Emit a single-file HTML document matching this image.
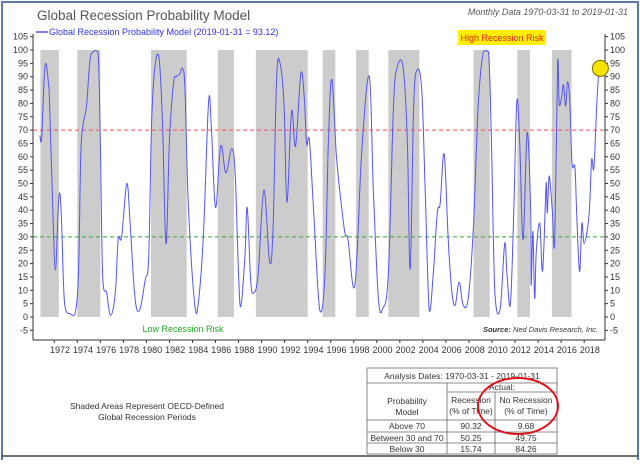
<!DOCTYPE html>
<html><head><meta charset="utf-8"><style>
body{margin:0;background:#fff;width:640px;height:460px;overflow:hidden;font-family:"Liberation Sans",sans-serif}
</style></head><body>
<svg width="640" height="460" font-family="Liberation Sans, sans-serif">
<rect x="2" y="2" width="636" height="470" fill="none" stroke="#5b7aa8" stroke-width="2"/>
<line x1="2" y1="456" x2="638" y2="456" stroke="#444" stroke-width="1.5"/>
<text x="37" y="20" font-size="13.5" fill="#555">Global Recession Probability Model</text>
<text x="628" y="15" font-size="9" font-style="italic" fill="#555" text-anchor="end">Monthly Data 1970-03-31 to 2019-01-31</text>
<line x1="36" y1="32" x2="48" y2="32" stroke="#5555ee" stroke-width="1.5"/>
<text x="49" y="35" font-size="9" fill="#3333dd">Global Recession Probability Model (2019-01-31 = 93.12)</text>
<g id="shades"></g>
<g id="axes"></g>
<g id="refs"></g>
<path id="series" fill="none" stroke="#5555ee" stroke-width="1"/>
<circle id="marker" r="8" fill="#f5e400" stroke="#806a00" stroke-width="1"/>
<rect x="458" y="30" width="88" height="15" fill="#ffee00"/>
<text x="502" y="41" font-size="9" fill="#e02020" text-anchor="middle">High Recession Risk</text>
<text x="183" y="332" font-size="9" fill="#22aa22" text-anchor="middle">Low Recession Risk</text>
<text x="598" y="332" font-size="7.5" fill="#333" font-style="italic" text-anchor="end"><tspan font-weight="bold">Source:</tspan>  Ned Davis Research, Inc.</text>
<text x="147" y="409" font-size="8.5" fill="#333" text-anchor="middle">Shaded Areas Represent OECD-Defined</text>
<text x="147" y="420" font-size="8.5" fill="#333" text-anchor="middle">Global Recession Periods</text>
<g font-size="8.5" fill="#333" text-anchor="middle">
<rect x="367" y="368" width="190" height="86" fill="#fff" stroke="#666" stroke-width="0.8"/>
<line x1="367" y1="383" x2="557" y2="383" stroke="#666" stroke-width="0.8"/>
<line x1="447" y1="392" x2="557" y2="392" stroke="#666" stroke-width="0.8"/>
<line x1="367" y1="420" x2="557" y2="420" stroke="#666" stroke-width="0.8"/>
<line x1="367" y1="432" x2="557" y2="432" stroke="#666" stroke-width="0.8"/>
<line x1="367" y1="443" x2="557" y2="443" stroke="#666" stroke-width="0.8"/>
<line x1="447" y1="383" x2="447" y2="454" stroke="#666" stroke-width="0.8"/>
<line x1="495" y1="392" x2="495" y2="454" stroke="#666" stroke-width="0.8"/>
<text x="462" y="379">Analysis Dates: 1970-03-31 - 2019-01-31</text>
<text x="502" y="390">Actual:</text>
<text x="407" y="404">Probability</text><text x="407" y="415">Model</text>
<text x="471" y="403">Recession</text><text x="471" y="414">(% of Time)</text>
<text x="526" y="403">No Recession</text><text x="526" y="414">(% of Time)</text>
<text x="407" y="429">Above 70</text><text x="471" y="429">90.32</text><text x="526" y="429">9.68</text>
<text x="407" y="441">Between 30 and 70</text><text x="471" y="441">50.25</text><text x="526" y="441">49.75</text>
<text x="407" y="452">Below 30</text><text x="471" y="452">15.74</text><text x="526" y="452">84.26</text>
</g>
<ellipse cx="518" cy="406" rx="40" ry="28" fill="none" stroke="#e0101a" stroke-width="2"/>
</svg>
<script>
const recStart=[1970.3,1973.5,1979.9,1985.7,1989.0,1994.8,1997.7,2000.5,2007.9,2011.7,2014.7];
const recEnd=[1971.9,1975.5,1983.0,1987.1,1993.5,1995.9,1998.8,2003.2,2009.3,2012.8,2016.4];
const years=[1970.25,1970.41,1970.7,1971.0,1971.1,1971.37,1971.6,1971.85,1972.0,1972.15,1972.4,1972.9,1973.3,1973.6,1973.8,1974.0,1974.3,1974.6,1974.9,1975.3,1975.5,1975.7,1976.05,1976.4,1976.8,1977.05,1977.35,1977.8,1978.1,1978.5,1978.9,1979.4,1979.7,1979.95,1980.25,1980.6,1980.9,1981.2,1981.5,1981.85,1982.1,1982.4,1982.65,1982.85,1983.15,1983.7,1984.0,1984.45,1984.9,1985.15,1985.5,1985.95,1986.4,1986.9,1987.2,1987.5,1987.7,1988.05,1988.25,1988.55,1988.8,1989.2,1989.7,1990.2,1990.5,1990.8,1991.1,1991.45,1991.7,1992.1,1992.45,1992.9,1993.2,1993.4,1993.65,1994.0,1994.55,1995.0,1995.3,1995.6,1996.0,1996.45,1996.75,1997.0,1997.6,1998.2,1998.85,1999.2,1999.65,2000.0,2000.5,2000.95,2001.3,2001.8,2002.15,2002.4,2002.7,2003.0,2003.4,2003.7,2004.05,2004.4,2004.75,2005.0,2005.35,2005.7,2006.0,2006.3,2006.65,2007.0,2007.45,2007.9,2008.3,2008.75,2009.2,2009.45,2009.75,2010.2,2010.6,2010.8,2011.1,2011.4,2011.65,2011.9,2012.2,2012.55,2012.85,2012.9,2013.05,2013.2,2013.35,2013.65,2013.85,2014.0,2014.2,2014.3,2014.45,2014.6,2014.75,2014.95,2015.2,2015.33,2015.55,2015.7,2015.9,2016.05,2016.25,2016.45,2016.7,2016.85,2017.1,2017.3,2017.5,2017.85,2018.0,2018.15,2018.35,2018.6,2018.8,2019.08];
const values=[68,67.5,94,87.5,79,41,17.5,41,46,34,5,1.2,1.2,16,60,72,79,96,99.4,99,66,16,9,0.6,9,29,30,50,34,7.5,2.5,14,22.5,72.5,94,97,72.5,27.5,66,87.5,90,91,93,85,41,4.4,5,31,80.6,70,41,64,54,63,54,16,4,22.5,41,14,9,16,47.5,20.6,34,89,95,79,43,77,64,91,82.5,65,66,41,2.5,16,66,89,60,41,31,29,12,62.5,90,47.5,6,3,16,79,94,93,66,18,79,92.5,85,47.5,2.5,16,39,42.5,61,29,10,4.4,13,4.4,7.5,35,79,99.4,99,66,9,2.7,27.5,16,5,41,80.6,66,29,69,41,12,32,7,25,35,17.5,26,50,39,52.5,47.5,39,29,96,80,82.5,87,79,88,81,57.5,56,39,17,35,27.5,35,44,59,56,80,92.5,93.12];
const yTicks=[-5,0,5,10,15,20,25,30,35,40,45,50,55,60,65,70,75,80,85,90,95,100,105];
const xTicks=[1972,1974,1976,1978,1980,1982,1984,1986,1988,1990,1992,1994,1996,1998,2000,2002,2004,2006,2008,2010,2012,2014,2016,2018];
const refLevels=[70,30];
const X=y=>60+(y-1972)*11.52;
const Y=v=>317-v*2.67;
const NS='http://www.w3.org/2000/svg';
function mk(tag,attrs,parent,txt){const e=document.createElementNS(NS,tag);for(const k in attrs)e.setAttribute(k,attrs[k]);if(txt!==undefined)e.textContent=txt;parent.appendChild(e);return e;}
const shades=document.getElementById('shades');
recStart.forEach((s,i)=>{
 const r=mk('rect',{x:X(s),y:Y(100),width:X(recEnd[i])-X(s),height:Y(0)-Y(100),fill:'#cccccc'},shades);
 
 
});
const axes=document.getElementById('axes');
const L=33,R=605,B=340;
let a=mk('line',{x1:L,y1:Y(106),x2:L,y2:B,stroke:'#333'},axes);


a=mk('line',{x1:R,y1:Y(106),x2:R,y2:B,stroke:'#333'},axes);


a=mk('line',{x1:L,y1:B,x2:R,y2:B,stroke:'#333'},axes);


yTicks.forEach(t=>{
 const y=Y(t);
 mk('line',{x1:L-3,y1:y,x2:L,y2:y,stroke:'#333'},axes);
 mk('line',{x1:R,y1:y,x2:R+3,y2:y,stroke:'#333'},axes);
 const l=mk('text',{x:L-5,y:y+3,'font-size':9,fill:'#333','text-anchor':'end'},axes,String(t));
 
 
 const r=mk('text',{x:R+5,y:y+3,'font-size':9,fill:'#333'},axes,String(t));
 
 
});
xTicks.forEach(t=>{
 const x=X(t);
 mk('line',{x1:x-5.76,y1:B,x2:x-5.76,y2:B+3,stroke:'#333'},axes);
 const l=mk('text',{x:x,y:B+13,'font-size':9,fill:'#333','text-anchor':'middle'},axes,String(t));
 
 
});
const refs=document.getElementById('refs');
refLevels.forEach((v,i)=>{
 const ln=mk('line',{x1:L,y1:Y(v),x2:R,y2:Y(v),stroke:i==0?'#ff4d5a':'#33aa33','stroke-width':1,'stroke-dasharray':'4,3'},refs);
 
 
});
const pts=years.map((y,i)=>[X(y),Y(values[i])]);
let d='M'+pts[0][0]+','+pts[0][1];
for(let i=0;i<pts.length-1;i++){
 const p0=pts[Math.max(0,i-1)],p1=pts[i],p2=pts[i+1],p3=pts[Math.min(pts.length-1,i+2)];
 const t=0.18;
 let c1y=p1[1]+(p2[1]-p0[1])*t,c2y=p2[1]-(p3[1]-p1[1])*t;
 c1y=Math.max(Y(100),Math.min(Y(0),c1y));c2y=Math.max(Y(100),Math.min(Y(0),c2y));
 d+=' C'+(p1[0]+(p2[0]-p0[0])*t)+','+c1y+' '+(p2[0]-(p3[0]-p1[0])*t)+','+c2y+' '+p2[0]+','+p2[1];
}
document.getElementById('series').setAttribute('d',d);
const m=document.getElementById('marker');
m.setAttribute('cx',X(years[years.length-1])-2);
m.setAttribute('cy',Y(values[values.length-1]));
</script>
</body></html>
